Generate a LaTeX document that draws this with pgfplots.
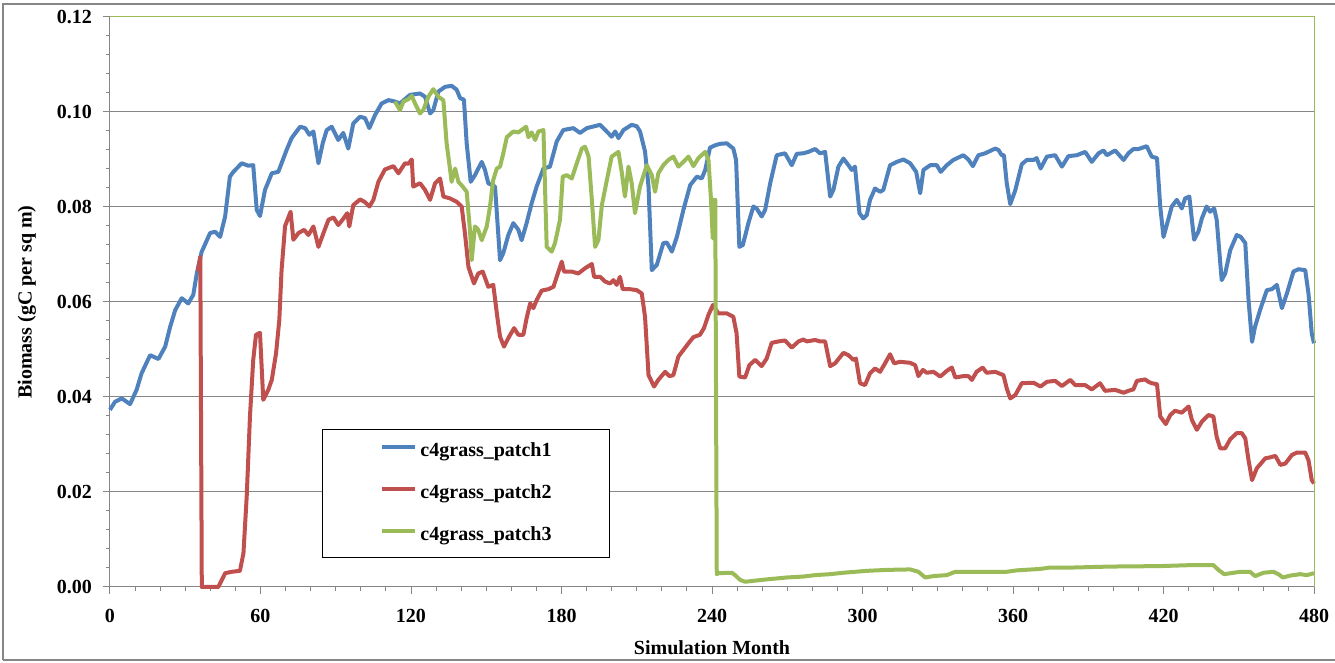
\documentclass[border=0pt]{standalone}
\usepackage{fontspec}
\setmainfont{Liberation Serif}
\usepackage{pgfplots}
\pgfplotsset{compat=1.18}
\definecolor{sblue}{HTML}{4F81BD}
\definecolor{sred}{HTML}{C0504D}
\definecolor{sgreen}{HTML}{9BBB59}
\definecolor{axgray}{HTML}{868686}
\begin{document}
\begin{tikzpicture}
\useasboundingbox (-55pt,-38pt) rectangle (612.5pt,293.5pt);
\begin{axis}[
  at={(0,0)}, anchor=south west,
  width=602pt, height=285pt, scale only axis,
  xmin=0, xmax=480, ymin=0, ymax=0.12,
  clip=false,
  axis x line*=bottom, axis y line*=left,
  axis line style={color=axgray, line width=0.5pt},
  xtick={0,60,120,180,240,300,360,420,480}, minor x tick num=5,
  ytick={0,0.02,0.04,0.06,0.08,0.1,0.12}, minor y tick num=4,
  tick align=outside,
  major tick length=3.5pt, minor tick length=2pt,
  every tick/.style={color=axgray, line width=0.5pt},
  ymajorgrids, grid style={color=axgray, line width=0.5pt},
  scaled y ticks=false,
  yticklabel style={/pgf/number format/fixed, /pgf/number format/fixed zerofill,
    /pgf/number format/precision=2, xshift=-2pt},
  /pgf/number format/assume math mode=true,
  ticklabel style={font=\bfseries},
  xticklabel style={yshift=-4pt},
  xlabel={Simulation Month}, ylabel={Biomass (gC per sq m)},
  label style={font=\bfseries},
  xlabel style={at={(axis description cs:0.5,-0.107)}, anchor=center},
  ylabel style={at={(axis description cs:-0.069,0.5)}, anchor=center},
  legend style={at={(0.176,0.277)}, anchor=north west, draw=black, line width=0.6pt,
    inner xsep=29pt, inner ysep=6.5pt, row sep=12pt, column sep=1.5pt,
    font=\bfseries, nodes={inner sep=0pt, text height=7pt, text depth=2pt}},
  legend cell align=left,
  legend image code/.code={\draw[#1, line width=2pt] (0pt,2.5pt) -- (16.5pt,2.5pt);},
  every axis plot/.append style={line width=2pt, line join=round},
]
% patch 1
\addplot[sblue] coordinates {
(0,0.0373)(2,0.0390)(4.7,0.0397)(8,0.0385)(10.6,0.0415)(12.6,0.0450)(16,0.0488)(19.3,0.0480)
(22,0.0506)(24,0.0548)(26,0.0583)(28.6,0.0608)(31.2,0.0597)(33.2,0.0615)(34.6,0.0660)(36.5,0.0705)
(39.9,0.0745)(41.9,0.0748)(43.9,0.0737)(45.9,0.0780)(47.8,0.0864)(49.2,0.0874)(52.5,0.0892)(55.1,0.0887)
(57.1,0.0888)(58.5,0.0794)(59.8,0.0781)(61.8,0.0836)(64.5,0.0871)(67.1,0.0874)(68.4,0.0892)(70.4,0.0920)
(72.4,0.0945)(75.8,0.0969)(77.8,0.0966)(79.5,0.0952)(81.1,0.0959)(83.1,0.0892)(84.8,0.0934)(86.4,0.0962)
(88.4,0.0969)(91.0,0.0941)(93.0,0.0956)(95.0,0.0923)(97.0,0.0976)(99.7,0.0990)(101.7,0.0987)(103.4,0.0966)
(105.7,0.0994)(108.3,0.1018)(111,0.1025)(113.6,0.1022)(115.6,0.1018)(119.6,0.1036)(123.6,0.1039)(125.6,0.1032)
(127.6,0.0997)(128.9,0.1004)(130.9,0.1043)(133.6,0.1053)(136.2,0.1055)(138.2,0.1047)(139.6,0.1029)(141.1,0.1026)
(142.2,0.0934)(143.8,0.0853)(145.5,0.0867)(148.2,0.0895)(149.5,0.0878)(150.8,0.0850)(153.5,0.0843)(155.5,0.0688)
(156.8,0.0703)(158.8,0.0741)(160.8,0.0766)(162.8,0.0752)(164.1,0.0730)(166.1,0.0766)(168.1,0.0808)(170.1,0.0843)
(172.8,0.0881)(175.4,0.0885)(178.1,0.0938)(180.7,0.0962)(184.7,0.0966)(187.4,0.0956)(190.1,0.0966)(195.4,0.0973)
(198.0,0.0959)(200.0,0.0948)(201.4,0.0959)(202.7,0.0945)(204.7,0.0962)(208.0,0.0973)(210.0,0.0970)(211.3,0.0959)
(213.3,0.0917)(214.7,0.0843)(216.0,0.0667)(218.0,0.0678)(220.6,0.0724)(222.0,0.0725)(224.0,0.0706)(226.0,0.0737)
(228.6,0.0794)(231.3,0.0846)(234.0,0.0864)(235.9,0.0860)(237.3,0.0878)(239.2,0.0925)(241.3,0.0930)(243.2,0.0933)
(245.9,0.0934)(248.5,0.0923)(249.6,0.0899)(250.9,0.0716)(252.3,0.0720)(254.5,0.0766)(256.5,0.0801)(257.8,0.0797)
(259.8,0.0780)(261.2,0.0794)(263.2,0.0850)(265.8,0.0909)(269.1,0.0913)(271.8,0.0888)(273.8,0.0912)(276.4,0.0913)
(278.4,0.0916)(281.1,0.0922)(283.1,0.0913)(285.1,0.0916)(287.1,0.0822)(288.4,0.0836)(290.4,0.0885)(292.4,0.0902)
(294.4,0.0888)(295.7,0.0878)(297.0,0.0885)(298.8,0.0787)(300.3,0.0776)(301.7,0.0783)(303.0,0.0815)(305.0,0.0839)
(307.0,0.0832)(308.3,0.0836)(311.0,0.0888)(313.7,0.0895)(316.3,0.0900)(319.0,0.0892)(321.4,0.0874)(323.0,0.0829)
(324.3,0.0878)(327.0,0.0888)(329.6,0.0888)(331.2,0.0874)(333.6,0.0888)(336.2,0.0899)(340.2,0.0909)(342.2,0.0900)
(344.0,0.0886)(346.2,0.0909)(348.9,0.0913)(352.9,0.0923)(354.2,0.0920)(355.5,0.0909)(356.4,0.0909)(357.5,0.0850)
(358.9,0.0806)(360.9,0.0835)(363.5,0.0890)(365.5,0.0899)(368.2,0.0899)(369.4,0.0903)(371.0,0.0881)(373.5,0.0906)
(376.8,0.0909)(379.5,0.0885)(382.1,0.0907)(385.4,0.0909)(388.8,0.0916)(391.4,0.0895)(394.1,0.0913)(396.1,0.0919)
(397.4,0.0909)(400.7,0.0919)(404.1,0.0899)(406.0,0.0913)(408.0,0.0922)(410.0,0.0922)(413.3,0.0928)(415.3,0.0906)
(417.4,0.0903)(418.7,0.0801)(420.0,0.0737)(421.3,0.0762)(423.3,0.0801)(425.3,0.0815)(427.3,0.0797)(428.6,0.0818)
(430.3,0.0822)(432.2,0.0731)(433.9,0.0748)(435.3,0.0776)(437.2,0.0801)(438.6,0.0790)(440.2,0.0797)(441.2,0.0773)
(443.2,0.0646)(444.6,0.0660)(446.6,0.0709)(449.2,0.0741)(450.8,0.0737)(452.6,0.0724)(453.9,0.0604)(455.3,0.0516)
(456.5,0.0548)(458.5,0.0583)(461.2,0.0625)(463.2,0.0627)(465.2,0.0636)(467.2,0.0587)(469.2,0.0618)(471.8,0.0664)
(473.8,0.0669)(476.5,0.0667)(477.8,0.0618)(479.1,0.0534)(480,0.0513)
};
\addlegendentry{c4grass\_patch1}
% patch 2
\addplot[sred] coordinates {
(35,0.0665)(36,0.0695)(36.6,0.0)(43.2,0.0)(45.9,0.0029)(48.5,0.0032)(51.8,0.0034)(53.2,0.0071)
(54.5,0.0190)(55.8,0.0359)(57.1,0.0478)(58.2,0.0531)(59.8,0.0535)(61.1,0.0394)(63.1,0.0415)(64.5,0.0436)
(66.2,0.0492)(67.5,0.0562)(68.4,0.0667)(69.8,0.0760)(72.0,0.0790)(73.1,0.0731)(75.1,0.0745)(77.4,0.0752)
(79.1,0.0741)(81.1,0.0759)(83.1,0.0716)(85.1,0.0745)(87.1,0.0773)(89.1,0.0778)(91.0,0.0762)(92.7,0.0773)
(94.6,0.0787)(95.4,0.0759)(97.0,0.0804)(99.7,0.0816)(101.7,0.0810)(103.4,0.0801)(105.0,0.0815)(107.0,0.0853)
(109.6,0.0879)(113.0,0.0886)(115.0,0.0871)(117.6,0.0892)(119.0,0.0891)(120.3,0.0900)(120.9,0.0843)(123.6,0.0850)
(125.6,0.0836)(127.6,0.0815)(129.6,0.0850)(131.6,0.0860)(132.9,0.0822)(135.6,0.0818)(138.2,0.0811)(140.2,0.0801)
(141.5,0.0745)(142.9,0.0674)(145.1,0.0639)(146.8,0.0660)(148.6,0.0664)(150.8,0.0632)(152.8,0.0636)(154.4,0.0569)
(155.5,0.0527)(157.1,0.0506)(158.8,0.0524)(161.1,0.0545)(162.8,0.0531)(164.8,0.0531)(166.1,0.0566)(167.5,0.0597)
(168.8,0.0587)(170.1,0.0604)(172.1,0.0624)(174.8,0.0627)(176.8,0.0632)(178.1,0.0653)(180.1,0.0685)(181.0,0.0664)
(184.1,0.0664)(186.7,0.0660)(189.4,0.0671)(192.1,0.0680)(193.0,0.0653)(195.4,0.0653)(197.4,0.0643)(199.4,0.0639)
(200.7,0.0646)(202.0,0.0636)(203.3,0.0653)(204.4,0.0627)(207.3,0.0627)(210.0,0.0625)(212.0,0.0618)(213.3,0.0569)
(214.7,0.0446)(216.9,0.0422)(218.6,0.0436)(221.3,0.0453)(223.0,0.0444)(224.6,0.0446)(226.6,0.0485)(228.6,0.0499)
(230.6,0.0513)(232.6,0.0526)(235.2,0.0531)(236.8,0.0545)(238.6,0.0573)(240.4,0.0594)(242.5,0.0576)(245.9,0.0576)
(248.5,0.0569)(249.8,0.0534)(250.9,0.0443)(253.2,0.0441)(254.9,0.0467)(257.2,0.0478)(259.8,0.0465)(261.8,0.0481)
(263.8,0.0514)(266.5,0.0517)(269.1,0.0519)(271.8,0.0504)(274.5,0.0517)(276.4,0.0521)(277.8,0.0517)(281.1,0.0520)
(283.1,0.0517)(285.1,0.0517)(287.1,0.0465)(289.1,0.0471)(292.4,0.0493)(294.4,0.0488)(296.4,0.0478)(297.4,0.0481)
(299.0,0.0429)(301.0,0.0425)(303.0,0.0450)(305.0,0.0460)(307.0,0.0453)(309.0,0.0471)(311.0,0.0490)(312.6,0.0471)
(315.0,0.0474)(319.0,0.0472)(321.0,0.0467)(322.3,0.0444)(324.1,0.0457)(325.6,0.0451)(328.3,0.0453)(331.0,0.0443)
(333.6,0.0455)(335.6,0.0462)(337.0,0.0441)(340.2,0.0444)(342.2,0.0444)(343.6,0.0436)(345.5,0.0453)(347.9,0.0462)
(349.5,0.0451)(352.9,0.0453)(356.2,0.0446)(357.5,0.0418)(358.9,0.0397)(360.9,0.0404)(363.5,0.0429)(368.2,0.0430)
(371.0,0.0422)(373.5,0.0432)(376.8,0.0434)(379.5,0.0423)(382.8,0.0436)(384.8,0.0425)(388.8,0.0425)(391.4,0.0416)
(394.7,0.0429)(396.7,0.0413)(400.7,0.0415)(404.1,0.0409)(406.0,0.0413)(408.0,0.0416)(409.4,0.0434)(412.7,0.0437)
(414.0,0.0432)(415.3,0.0429)(417.4,0.0427)(418.7,0.0359)(420.9,0.0343)(422.7,0.0362)(424.6,0.0371)(427.3,0.0367)
(430.0,0.0380)(431.3,0.0352)(433.3,0.0331)(435.3,0.0348)(437.9,0.0362)(439.9,0.0359)(441.2,0.0316)(442.6,0.0292)
(444.6,0.0292)(446.6,0.0311)(449.2,0.0324)(451.2,0.0324)(452.6,0.0313)(453.9,0.0267)(455.3,0.0225)(457.2,0.0250)
(460.6,0.0271)(462.6,0.0273)(464.6,0.0276)(466.6,0.0257)(468.6,0.0260)(471.2,0.0278)(473.2,0.0283)(476.5,0.0283)
(477.8,0.0267)(479.1,0.0225)(480,0.0218)
};
\addlegendentry{c4grass\_patch2}
% patch 3
\addplot[sgreen] coordinates {
(113.6,0.1022)(115.6,0.1004)(117.0,0.1022)(119.0,0.1027)(120.3,0.1034)(121.6,0.1018)(123.6,0.0997)(124.9,0.1004)
(126.9,0.1032)(128.9,0.1048)(130.9,0.1032)(132.9,0.1025)(134.2,0.0934)(135.6,0.0878)(136.2,0.0853)(137.6,0.0881)
(138.9,0.0853)(140.6,0.0843)(142.2,0.0832)(143.5,0.0752)(144.2,0.0688)(145.5,0.0759)(146.8,0.0752)(148.2,0.0730)
(150.2,0.0759)(151.5,0.0801)(152.8,0.0857)(154.2,0.0881)(155.5,0.0885)(156.8,0.0913)(158.2,0.0947)(160.8,0.0959)
(162.8,0.0957)(165.9,0.0969)(166.8,0.0947)(168.1,0.0957)(169.5,0.0941)(170.8,0.0959)(172.8,0.0962)(174.1,0.0716)
(176.1,0.0706)(177.4,0.0724)(179.4,0.0773)(180.5,0.0864)(182.1,0.0867)(184.1,0.0860)(186.1,0.0892)(188.1,0.0923)
(189.4,0.0927)(190.8,0.0906)(192.1,0.0815)(193.4,0.0716)(194.7,0.0730)(196.1,0.0804)(198.1,0.0857)(200.0,0.0906)
(202.7,0.0916)(204.0,0.0874)(205.3,0.0822)(206.7,0.0885)(208.0,0.0850)(209.3,0.0787)(211.3,0.0843)(214.0,0.0888)
(216.0,0.0867)(217.3,0.0832)(218.6,0.0871)(220.6,0.0888)(222.6,0.0899)(224.6,0.0906)(226.6,0.0885)(228.6,0.0895)
(230.6,0.0906)(232.6,0.0886)(234.6,0.0903)(237.3,0.0916)(238.6,0.0899)(239.6,0.0815)(240.3,0.0734)(240.6,0.0815)
(241.3,0.0815)(241.9,0.0027)(242.5,0.0029)(247.9,0.0030)(249.2,0.0025)(251.2,0.0015)(253.2,0.0011)(256.5,0.0013)
(261.8,0.0016)(269.8,0.0020)(276.4,0.0022)(281.1,0.0025)(287.1,0.0027)(292.4,0.0030)(301.7,0.0034)(309.7,0.0036)
(319.0,0.0037)(322.3,0.0032)(325.0,0.0020)(328.3,0.0023)(333.6,0.0025)(337.0,0.0032)(357.5,0.0032)(361.5,0.0035)
(370.8,0.0038)(374.8,0.0041)(384.1,0.0041)(398.7,0.0043)(418.7,0.0044)(430.6,0.0046)(439.9,0.0046)(441.9,0.0036)
(444.2,0.0027)(450.6,0.0032)(454.5,0.0032)(456.5,0.0023)(459.9,0.0030)(463.8,0.0032)(465.8,0.0027)(467.6,0.0020)
(470.5,0.0024)(474.5,0.0027)(477.1,0.0025)(480,0.0029)
};
\addlegendentry{c4grass\_patch3}
% plot-area border on the top and right sides
\draw[sgreen, line width=0.5pt] (rel axis cs:0,1) -- (rel axis cs:1,1) -- (rel axis cs:1,0);
\end{axis}
% chart-area frame
\draw[axgray, line width=0.7pt] (620pt,291.5pt) -- (-53.5pt,291.5pt) -- (-53.5pt,-36.5pt);
\draw[axgray, line width=1.3pt] (-53.5pt,-36.5pt) -- (620pt,-36.5pt);
\end{tikzpicture}
\end{document}
